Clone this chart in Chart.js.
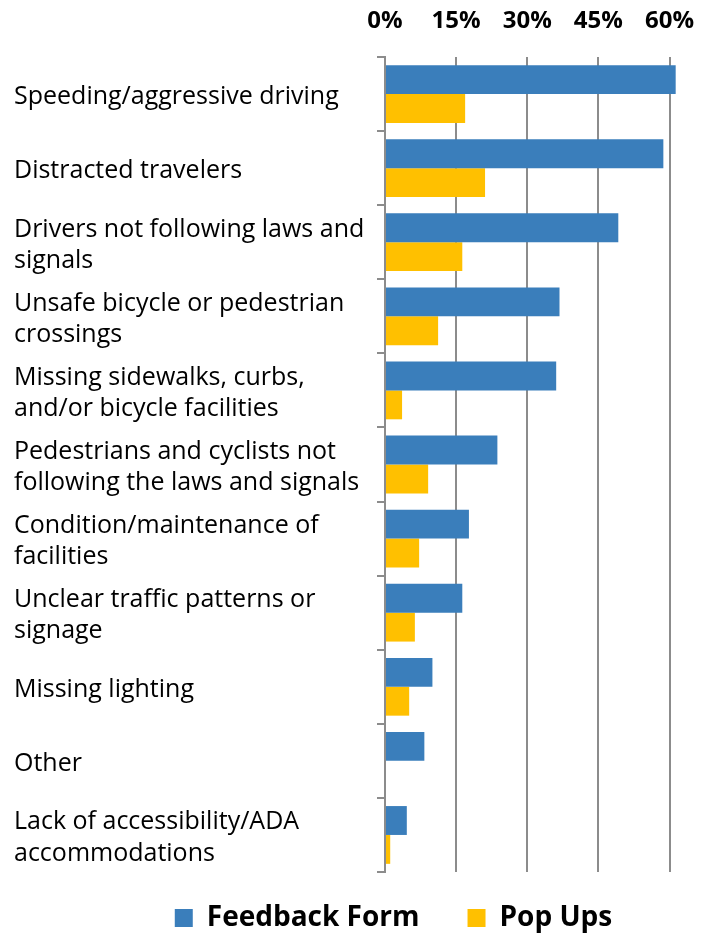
<!DOCTYPE html>
<html>
<head>
<meta charset="utf-8">
<script src="https://cdn.jsdelivr.net/npm/chart.js@4/dist/chart.umd.min.js"></script>
<style>
  html, body { margin: 0; padding: 0; background: #fff; }
  #wrap { width: 709px; height: 936px; }
</style>
</head>
<body>
<div id="wrap"><canvas id="myChart" width="709" height="936"></canvas></div>
<script>
// categories (multi-line labels as in the original)
const categories = [
  ['Speeding/aggressive driving'],
  ['Distracted travelers'],
  ['Drivers not following laws and', 'signals'],
  ['Unsafe bicycle or pedestrian', 'crossings'],
  ['Missing sidewalks, curbs,', 'and/or bicycle facilities'],
  ['Pedestrians and cyclists not', 'following the laws and signals'],
  ['Condition/maintenance of', 'facilities'],
  ['Unclear traffic patterns or', 'signage'],
  ['Missing lighting'],
  ['Other'],
  ['Lack of accessibility/ADA', 'accommodations']
];

// percent of respondents
const feedbackForm = [61.3, 58.7, 49.2, 36.8, 36.1, 23.7, 17.7, 16.3, 10.0, 8.3, 4.6];
const popUps = [16.9, 21.1, 16.3, 11.2, 3.6, 9.1, 7.2, 6.3, 5.1, 0, 1.1];

const tickValues = [0, 15, 30, 45, 60];

const gray = '#8c8c8c';
const fontFamily = '"Open Sans", Lato, sans-serif';

// the original legend sits a little right of centre, with wide gaps
const legendShift = {
  id: 'legendShift',
  afterLayout(chart) {
    const lg = chart.legend;
    lg.left += 47;
    lg.right += 47;
    lg.top -= 16;
    lg.bottom = chart.height;
  }
};

const ctx = document.getElementById('myChart').getContext('2d');
new Chart(ctx, {
  type: 'bar',
  data: {
    labels: categories,
    datasets: [
      {
        label: 'Feedback Form',
        data: feedbackForm,
        backgroundColor: '#3a7ebb',
        barPercentage: 1.0,
        categoryPercentage: 0.78
      },
      {
        label: 'Pop Ups',
        data: popUps,
        backgroundColor: '#ffc000',
        barPercentage: 1.0,
        categoryPercentage: 0.78
      }
    ]
  },
  plugins: [legendShift],
  options: {
    indexAxis: 'y',
    responsive: false,
    animation: false,
    layout: { padding: { left: 14, right: 30, top: 5, bottom: 0 } },
    plugins: {
      tooltip: { enabled: false },
      legend: {
        position: 'bottom',
        maxHeight: 64,
        labels: {
          color: '#000',
          font: { family: fontFamily, size: 28, weight: 'bold' },
          boxWidth: 18,
          boxHeight: 18,
          padding: 48
        }
      }
    },
    scales: {
      x: {
        position: 'top',
        min: 0,
        max: 62,
        afterBuildTicks: (scale) => {
          scale.ticks = tickValues.map(v => ({ value: v }));
        },
        afterFit: (scale) => {
          scale.height = 52;
          scale.paddingLeft = 0;
          scale.paddingRight = 0;
        },
        ticks: {
          color: '#000',
          font: { family: fontFamily, size: 24, weight: 'bold' },
          padding: 21,
          callback: (v) => v + '%'
        },
        grid: {
          color: gray,
          lineWidth: 2,
          drawTicks: false
        },
        border: { display: false }
      },
      y: {
        afterFit: (scale) => {
          scale.width = 371;
          scale.paddingTop = 0;
          scale.paddingBottom = 0;
        },
        ticks: {
          color: '#000',
          crossAlign: 'far',
          font: { family: fontFamily, size: 25, lineHeight: 1.25 },
          padding: 6,
          labelOffset: 3
        },
        grid: {
          offset: true,
          drawOnChartArea: false,
          color: gray,
          lineWidth: 2,
          tickLength: 8
        },
        border: { display: true, color: gray, width: 2 }
      }
    }
  }
});
</script>
</body>
</html>
